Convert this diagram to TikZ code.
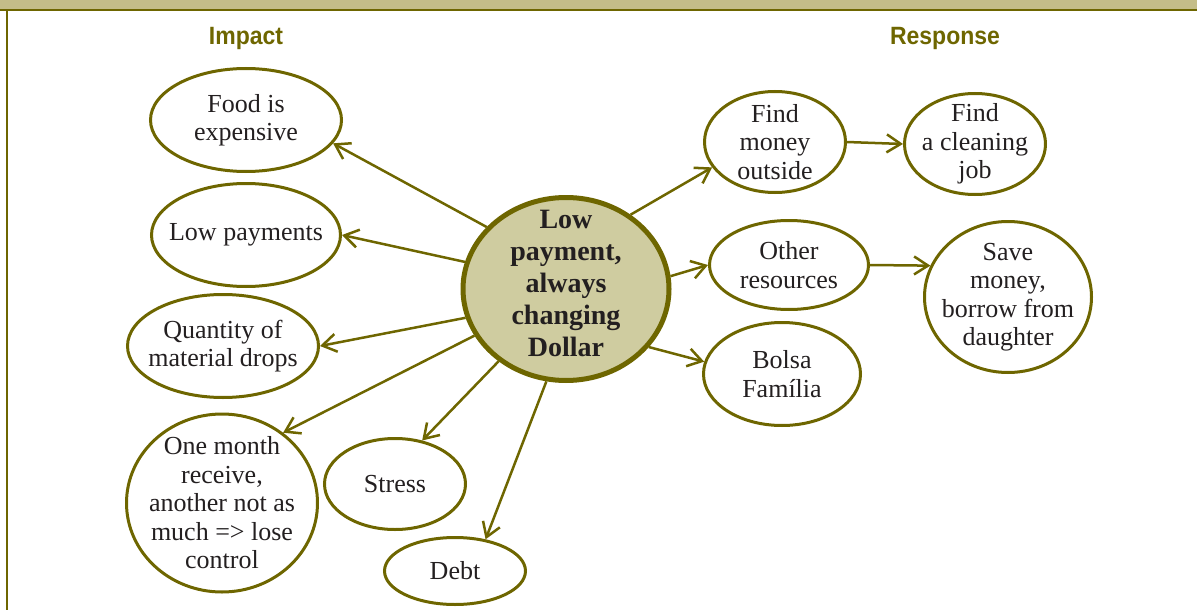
\documentclass[tikz,border=0pt]{standalone}
\usepackage{fontspec}
\setmainfont{Liberation Serif}
\setsansfont{Liberation Sans}
\usetikzlibrary{arrows.meta,shapes.geometric}

\definecolor{olivedark}{RGB}{110,102,0}
\definecolor{hubfill}{RGB}{207,204,160}
\definecolor{barfill}{RGB}{196,189,136}
\definecolor{inkgray}{RGB}{35,31,32}

\begin{document}
\begin{tikzpicture}[x=1pt,y=-1pt,
  bubble/.style={ellipse, draw=olivedark, line width=3pt, inner sep=-40pt,
    align=center, text=inkgray, font=\fontsize{26}{28.5}\selectfont},
  hub/.style={bubble, line width=5pt, fill=hubfill, text depth=11pt,
    font=\fontsize{28}{32}\selectfont\bfseries},
  link/.style={draw=olivedark, line width=2.5pt,
    -{Straight Barb[length=14pt,width=18pt,line width=2.5pt]}},
  heading/.style={text=olivedark, font=\fontsize{25}{28}\selectfont\sffamily\bfseries}]
\useasboundingbox (0,0) rectangle (1197,610);

% frame
\fill[barfill] (0,0) rectangle (1197,10);
\draw[olivedark, line width=1.5pt] (0,10) -- (1197,10);
\draw[olivedark, line width=1.5pt] (7,10) -- (7,610);

% headings
\node[heading] (impact) at (246,38) {\scalebox{0.92}[1]{Impact}};
\node[heading] (response) at (945,38) {\scalebox{0.92}[1]{Response}};

% hub
\node[hub, minimum width=206pt, minimum height=183pt] (hub) at (566,289)
  {Low\\payment,\\always\\changing\\Dollar};

% impact side
\node[bubble, minimum width=191pt, minimum height=103pt] (food) at (246,120) {Food is\\expensive};
\node[bubble, minimum width=189pt, minimum height=103pt] (lowpay) at (246,235) {Low payments};
\node[bubble, minimum width=191pt, minimum height=103pt] (qty) at (223,346) {Quantity of\\material drops};
\node[bubble, minimum width=191pt, minimum height=178pt] (month) at (222,503)
  {One month\\receive,\\another not as\\much => lose\\control};
\node[bubble, minimum width=141pt, minimum height=91pt] (stress) at (395,484) {Stress};
\node[bubble, minimum width=141pt, minimum height=67pt] (debt) at (455,571) {Debt};

% response side
\node[bubble, minimum width=141pt, minimum height=101pt] (money) at (775,142) {Find\\money\\outside};
\node[bubble, minimum width=141pt, minimum height=101pt] (clean) at (975,144) {Find\\a cleaning\\job};
\node[bubble, minimum width=159pt, minimum height=89pt] (other) at (789,265) {Other\\resources};
\node[bubble, minimum width=167pt, minimum height=151pt] (save) at (1008,297)
  {Save\\money,\\borrow from\\daughter};
\node[bubble, minimum width=157pt, minimum height=103pt] (bolsa) at (782,374) {Bolsa\\Família};

% connectors
\draw[link] (hub.142.5) -- (food.-15.7);
\draw[link] (hub.165) -- (lowpay.0);
\draw[link] (hub.196.5) -- (qty.0);
\draw[link] (hub.207) -- (month.49.7);
\draw[link] (hub.227) -- (stress.58.6);
\draw[link] (hub.258.6) -- (debt.46);
\draw[link] (hub.49) -- (money.202.5);
\draw[link] (hub.7.5) -- (other.180);
\draw[link] (hub.-35.5) -- (bolsa.171.7);
\draw[link] (money.0) -- (clean.180);
\draw[link] (other.0) -- (save.158.5);
\end{tikzpicture}
\end{document}
